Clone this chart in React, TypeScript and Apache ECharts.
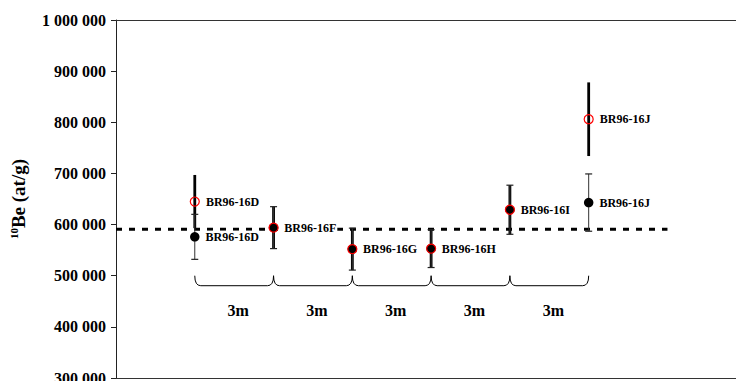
import React, { useEffect, useRef } from "react";
import * as echarts from "echarts";

const samples = ["BR96-16D", "BR96-16F", "BR96-16G", "BR96-16H", "BR96-16I", "BR96-16J"];
const positions = [1, 2, 3, 4, 5, 6];
const blackValues = [576000, 594000, 552000, 553000, 629000, 643000];
const blackErrors = [44000, 41000, 41000, 37000, 48000, 56000];
const redValues = [645000, 594000, 552000, 553000, 629000, 806000];
const redErrors = [52000, 41000, 41000, 37000, 48000, 72000];
const redLabelShown = [true, false, false, false, false, true];
const meanValue = 591000;
const spacingLabels = ["3m", "3m", "3m", "3m", "3m"];
const braceLevel = 500000;
const yMin = 300000;
const yMax = 1000000;
const yStep = 100000;

const FONT = '"Liberation Serif", "Times New Roman", serif';

function fmt(v: number) {
  return String(v).replace(/\B(?=(\d{3})+(?!\d))/g, " ");
}

export default function App() {
  const ref = useRef<HTMLDivElement>(null);
  useEffect(() => {
    document.body.style.margin = "0";
    const chart = echarts.init(ref.current!, null, { renderer: "svg" });

    const errorRender = (thick: boolean) => (params: any, api: any) => {
      const x = api.value(0);
      const v = api.value(1);
      const e = api.value(2);
      const top = api.coord([x, v + e]);
      const bot = api.coord([x, v - e]);
      const children: any[] = [
        {
          type: "line",
          shape: { x1: top[0], y1: top[1], x2: bot[0], y2: bot[1] },
          style: { stroke: thick ? "#000" : "#333", lineWidth: thick ? 2.8 : 1 },
        },
      ];
      if (!thick) {
        const hw = 3.5;
        children.push(
          { type: "line", shape: { x1: top[0] - hw, y1: top[1], x2: top[0] + hw, y2: top[1] }, style: { stroke: "#222", lineWidth: 1.2 } },
          { type: "line", shape: { x1: bot[0] - hw, y1: bot[1], x2: bot[0] + hw, y2: bot[1] }, style: { stroke: "#222", lineWidth: 1.2 } }
        );
      }
      return { type: "group", children };
    };

    const braceRender = (params: any, api: any) => {
      const x1 = api.value(0);
      const x2 = api.value(1);
      const y = api.value(2);
      const p1 = api.coord([x1, y]);
      const p2 = api.coord([x2, y]);
      const d = 10;
      const r = 6;
      const path =
        `M${p1[0]} ${p1[1]} Q${p1[0]} ${p1[1] + d} ${p1[0] + r} ${p1[1] + d} ` +
        `L${p2[0] - r} ${p2[1] + d} Q${p2[0]} ${p2[1] + d} ${p2[0]} ${p2[1]}`;
      return {
        type: "group",
        children: [
          { type: "path", shape: { pathData: path }, style: { stroke: "#000", fill: "none", lineWidth: 1 } },
          {
            type: "text",
            style: {
              text: spacingLabels[params.dataIndex],
              x: (p1[0] + p2[0]) / 2 + 4,
              y: p1[1] + 35,
              fill: "#000",
              font: `bold 16px ${FONT}`,
              align: "center",
              verticalAlign: "middle",
            },
          },
        ],
      };
    };

    const pointLabel = {
      show: true,
      position: "right",
      distance: 5,
      formatter: (p: any) => p.name,
      color: "#000",
      fontFamily: FONT,
      fontWeight: "bold",
      fontSize: 12,
      backgroundColor: "#fff",
      padding: [0, 1, 0, 1],
    };

    chart.setOption({
      animation: false,
      backgroundColor: "#fff",
      grid: { left: 116, top: 20, right: 0, bottom: 3, outerBoundsMode: "none", containLabel: false },
      xAxis: [
        {
          type: "value",
          min: 0,
          max: 7.87,
          axisLine: { show: true, onZero: false, lineStyle: { color: "#333", width: 1 } },
          axisTick: { show: false },
          axisLabel: { show: false },
          splitLine: { show: false },
        },
        {
          type: "value",
          position: "top",
          min: 0,
          max: 7.87,
          axisLine: { show: true, onZero: false, lineStyle: { color: "#333", width: 1 } },
          axisTick: { show: false },
          axisLabel: { show: false },
          splitLine: { show: false },
        },
      ],
      yAxis: {
        type: "value",
        min: yMin,
        max: yMax,
        interval: yStep,
        axisLine: { show: true, lineStyle: { color: "#222", width: 1 } },
        axisTick: { show: true, length: 5, lineStyle: { color: "#222" } },
        splitLine: { show: false },
        axisLabel: {
          margin: 10,
          color: "#000",
          fontFamily: FONT,
          fontWeight: "bold",
          fontSize: 16,
          formatter: (v: number) => fmt(v),
        },
        name: "{s|10}{b|Be (at/g)}",
        nameLocation: "middle",
        nameRotate: 90,
        nameGap: 88,
        nameTextStyle: {
          rich: {
            s: { fontFamily: FONT, fontWeight: "bold", fontSize: 11, color: "#000", verticalAlign: "top", lineHeight: 20 },
            b: { fontFamily: FONT, fontWeight: "bold", fontSize: 19, color: "#000", lineHeight: 20 },
          },
        },
      },
      series: [
        {
          type: "line",
          data: [
            [0, meanValue],
            [7, meanValue],
          ],
          symbol: "none",
          lineStyle: { color: "#000", width: 3, type: [6, 7] },
          z: 1,
          silent: true,
        },
        {
          type: "custom",
          renderItem: braceRender,
          data: spacingLabels.map((_, i) => [positions[i], positions[i + 1], braceLevel]),
          encode: { x: [0, 1], y: 2 },
          clip: false,
          z: 2,
        },
        {
          type: "custom",
          renderItem: errorRender(true),
          data: positions.map((x, i) => [x, redValues[i], redErrors[i]]),
          encode: { x: 0, y: 1 },
          z: 3,
        },
        {
          type: "custom",
          renderItem: errorRender(false),
          data: positions.map((x, i) => [x, blackValues[i], blackErrors[i]]),
          encode: { x: 0, y: 1 },
          z: 4,
        },
        {
          type: "scatter",
          symbol: "circle",
          symbolSize: 9.5,
          itemStyle: { color: "#000", opacity: 1 },
          data: positions.map((x, i) => ({ value: [x, blackValues[i]], name: samples[i] })),
          label: pointLabel,
          z: 5,
        },
        {
          type: "scatter",
          symbol: "circle",
          symbolSize: 9,
          itemStyle: { color: "rgba(0,0,0,0)", borderColor: "#ff0000", borderWidth: 1.2, opacity: 1 },
          data: positions.map((x, i) => ({
            value: [x, redValues[i]],
            name: samples[i],
            label: { show: redLabelShown[i] },
          })),
          label: pointLabel,
          z: 6,
        },
      ],
    });
    return () => chart.dispose();
  }, []);
  return <div ref={ref} style={{ width: 736, height: 381 }} />;
}
